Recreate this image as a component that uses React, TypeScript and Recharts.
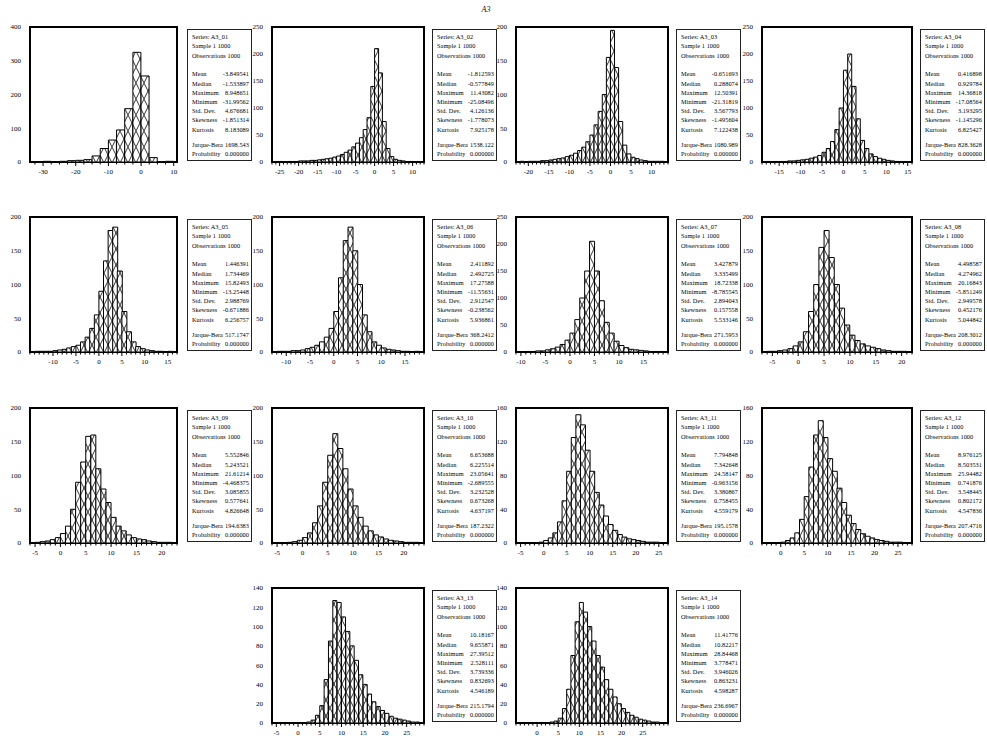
import { BarChart, Bar, XAxis, YAxis, ReferenceArea } from "recharts"

// Histogram bins: first bin start and width for each series
const seriesNames = ["A3_01", "A3_02", "A3_03", "A3_04", "A3_05", "A3_06", "A3_07", "A3_08", "A3_09", "A3_10", "A3_11", "A3_12", "A3_13", "A3_14"]
const binStart = [-32.5, -26, -22, -18, -14, -12, -9, -6, -5, -3, -1, 0, 2, 3]
const binWidth = [2.5, 1, 1, 1, 1, 1, 1, 1, 1, 1, 1, 1, 1, 1]

const counts01 = [1, 2, 1, 2, 4, 5, 7, 18, 40, 65, 95, 158, 325, 255, 13, 1, 2]
const counts02 = [1, 1, 0, 1, 1, 1, 2, 2, 2, 3, 3, 4, 5, 6, 7, 9, 11, 14, 18, 22, 28, 35, 45, 60, 82, 140, 210, 165, 75, 25, 10, 5, 3, 2, 1, 1, 0, 1]
const counts03 = [1, 0, 1, 1, 1, 2, 2, 3, 4, 5, 6, 8, 10, 13, 17, 22, 30, 40, 55, 75, 100, 155, 195, 140, 60, 25, 12, 7, 5, 3, 2, 1, 1, 1, 1]
const counts04 = [1, 0, 1, 1, 1, 2, 2, 3, 4, 5, 7, 9, 12, 18, 25, 38, 60, 100, 170, 200, 140, 80, 40, 25, 15, 10, 7, 5, 3, 2, 1, 1, 1]
const counts05 = [1, 1, 1, 1, 2, 3, 4, 6, 8, 10, 15, 22, 35, 55, 90, 135, 180, 185, 120, 60, 30, 15, 8, 5, 3, 2, 1, 1, 0, 1]
const counts06 = [1, 1, 1, 2, 2, 3, 5, 7, 10, 15, 22, 35, 60, 110, 165, 185, 150, 100, 55, 30, 15, 10, 6, 4, 3, 2, 1, 1, 0, 1]
const counts07 = [1, 1, 2, 2, 4, 6, 9, 14, 22, 35, 60, 100, 150, 205, 150, 95, 55, 35, 20, 12, 8, 5, 4, 3, 2, 1, 1, 1]
const counts08 = [1, 1, 2, 3, 5, 9, 15, 30, 60, 100, 155, 180, 140, 100, 65, 40, 25, 17, 12, 9, 7, 5, 3, 2, 1, 1, 1]
const counts09 = [1, 2, 3, 5, 8, 14, 25, 50, 90, 120, 158, 160, 110, 80, 60, 38, 25, 18, 12, 8, 6, 5, 3, 2, 1, 1, 1]
const counts10 = [1, 2, 4, 8, 15, 30, 55, 90, 130, 162, 140, 110, 80, 55, 38, 25, 18, 12, 9, 6, 4, 3, 2, 1, 1, 1]
const counts11 = [1, 3, 6, 12, 25, 50, 85, 125, 152, 140, 110, 85, 60, 45, 32, 22, 15, 10, 7, 5, 4, 3, 2, 1, 1, 1]
const counts12 = [1, 3, 6, 12, 28, 55, 90, 128, 145, 125, 100, 85, 65, 48, 33, 23, 16, 11, 8, 6, 4, 3, 2, 1, 1, 1]
const counts13 = [1, 3, 8, 18, 45, 85, 127, 125, 110, 95, 80, 65, 50, 40, 30, 22, 17, 13, 10, 7, 5, 4, 3, 2, 1, 1]
const counts14 = [1, 2, 5, 15, 35, 70, 105, 125, 115, 100, 85, 70, 58, 45, 35, 27, 20, 15, 11, 8, 6, 4, 3, 2, 1, 1]
const allCounts = [counts01, counts02, counts03, counts04, counts05, counts06, counts07, counts08, counts09, counts10, counts11, counts12, counts13, counts14]

// Axis ranges and tick labels
const xDomains = [[-34, 11], [-27, 13], [-23, 14], [-19, 16], [-15, 17], [-13, 19], [-11, 20], [-7, 22], [-6, 23], [-6, 24], [-6, 27], [-4, 28], [-6, 29], [-5, 31]]
const xTickLabels = [
  [-30, -20, -10, 0, 10],
  [-25, -20, -15, -10, -5, 0, 5, 10],
  [-20, -15, -10, -5, 0, 5, 10],
  [-15, -10, -5, 0, 5, 10, 15],
  [-10, -5, 0, 5, 10, 15],
  [-10, -5, 0, 5, 10, 15],
  [-10, -5, 0, 5, 10, 15],
  [-5, 0, 5, 10, 15, 20],
  [-5, 0, 5, 10, 15, 20],
  [-5, 0, 5, 10, 15, 20],
  [-5, 0, 5, 10, 15, 20, 25],
  [0, 5, 10, 15, 20, 25],
  [-5, 0, 5, 10, 15, 20, 25],
  [0, 5, 10, 15, 20, 25],
]
const xMinorStep = [2.5, 1, 1, 1, 1, 1, 1, 1, 1, 1, 1, 1, 1, 1]
const yTickLabels = [
  [0, 100, 200, 300, 400],
  [0, 50, 100, 150, 200, 250],
  [0, 50, 100, 150, 200],
  [0, 50, 100, 150, 200, 250],
  [0, 50, 100, 150, 200],
  [0, 50, 100, 150, 200],
  [0, 50, 100, 150, 200, 250],
  [0, 50, 100, 150, 200],
  [0, 50, 100, 150, 200],
  [0, 50, 100, 150, 200],
  [0, 40, 80, 120, 160],
  [0, 40, 80, 120, 160],
  [0, 20, 40, 60, 80, 100, 120, 140],
  [0, 20, 40, 60, 80, 100, 120, 140],
]

// Descriptive statistics
const means = ["-3.849541", "-1.812593", "-0.651693", "0.416898", "1.446391", "2.411892", "3.427879", "4.498587", "5.552846", "6.653688", "7.794848", "8.976125", "10.18167", "11.41776"]
const medians = ["-1.533897", "-0.577849", "0.288074", "0.929784", "1.734469", "2.492725", "3.335499", "4.274962", "5.243521", "6.225514", "7.342648", "8.503531", "9.655871", "10.82217"]
const maxima = ["8.948651", "11.43082", "12.50391", "14.36818", "15.82493", "17.27588", "18.72338", "20.16843", "21.61214", "23.05641", "24.58147", "25.94482", "27.39512", "28.84468"]
const minima = ["-31.99562", "-25.08496", "-21.31819", "-17.08564", "-13.25448", "-11.55631", "-8.785545", "-5.851249", "-4.468375", "-2.689555", "-0.963156", "0.741876", "2.528111", "3.778471"]
const stdDevs = ["4.676681", "4.126136", "3.567793", "3.193295", "2.988769", "2.912547", "2.894043", "2.949578", "3.085855", "3.232528", "3.380867", "3.548445", "3.739336", "3.946026"]
const skews = ["-1.851314", "-1.778073", "-1.495604", "-1.145296", "-0.671886", "-0.238562", "0.157558", "0.452176", "0.577641", "0.673268", "0.758455", "0.802172", "0.832693", "0.863231"]
const kurts = ["8.183089", "7.925178", "7.122438", "6.825427", "6.256757", "5.936861", "5.533146", "5.044842", "4.826648", "4.637197", "4.559179", "4.547836", "4.546189", "4.598287"]
const jarqueBera = ["1698.543", "1538.122", "1080.989", "828.3628", "517.1747", "368.2412", "271.5953", "208.3012", "194.6383", "187.2322", "195.1578", "207.4716", "215.1794", "236.6967"]
const probs = ["0.000000", "0.000000", "0.000000", "0.000000", "0.000000", "0.000000", "0.000000", "0.000000", "0.000000", "0.000000", "0.000000", "0.000000", "0.000000", "0.000000"]

const FONT = "'Liberation Serif', 'DejaVu Serif', serif"
const boxLeft = [30, 272, 516, 762]
const boxWidth = [147, 152, 152, 150]
const statsLeft = [187, 432, 676, 920]
const rowTop = [27, 217, 408, 588]
const PLOT_H = 135

// grid slot (row, col) of each series
const slots = [[0, 0], [0, 1], [0, 2], [0, 3], [1, 0], [1, 1], [1, 2], [1, 3], [2, 0], [2, 1], [2, 2], [2, 3], [3, 1], [3, 2]]

function XTick(props: any) {
  const { x, y, payload, majors } = props
  const v = payload.value
  const major = majors.some((m: number) => Math.abs(m - v) < 1e-6)
  return (
    <g>
      <line x1={x} x2={x} y1={y} y2={y + (major ? 4 : 2.5)} stroke="#000" strokeWidth={1} />
      {major && (
        <text x={x} y={y + 12} textAnchor="middle" fontSize={7} fontFamily={FONT} fill="#000">
          {v}
        </text>
      )}
    </g>
  )
}

function Histogram({ idx }: { idx: number }) {
  const [row, col] = slots[idx]
  const left = boxLeft[col]
  const top = rowTop[row]
  const w = boxWidth[col]
  const data = allCounts[idx].map((n, i) => ({ mid: binStart[idx] + binWidth[idx] * (i + 0.5), n }))
  const [x0, x1] = xDomains[idx]
  const yTicks = yTickLabels[idx]
  const yMax = yTicks[yTicks.length - 1]
  const step = xMinorStep[idx]
  const minor: number[] = []
  for (let t = Math.ceil(x0 / step) * step; t <= x1 + 1e-9; t += step) minor.push(Math.round(t * 100) / 100)

  return (
    <div style={{ position: "absolute", left: left - 30, top: top - 8 }}>
      <BarChart
        width={w + 34}
        height={PLOT_H + 30}
        data={data}
        margin={{ top: 8, right: 4, left: 0, bottom: 0 }}
        barCategoryGap={0}
        barGap={0}
      >
        <XAxis
          dataKey="mid"
          type="number"
          domain={[x0, x1]}
          allowDataOverflow
          ticks={minor}
          interval={0}
          axisLine={false}
          tickLine={false}
          tickSize={0}
          tickMargin={0}
          height={22}
          tick={(p: any) => <XTick {...p} majors={xTickLabels[idx]} />}
        />
        <YAxis
          type="number"
          domain={[0, yMax]}
          ticks={yTicks}
          interval={0}
          axisLine={false}
          tickLine={false}
          tickSize={0}
          tickMargin={9}
          width={30}
          tick={{ fontSize: 7, fontFamily: FONT, fill: "#000" }}
        />
        <Bar dataKey="n" fill="url(#xhatch)" stroke="#000" strokeWidth={1} isAnimationActive={false} />
        <ReferenceArea x1={x0} x2={x1} y1={0} y2={yMax} fill="none" stroke="#000" strokeWidth={2} fillOpacity={0} ifOverflow="visible" />
      </BarChart>
    </div>
  )
}

function StatsBox({ idx }: { idx: number }) {
  const [row, col] = slots[idx]
  const rows: [string, string, number][] = [
    ["Series: " + seriesNames[idx], "", 7],
    ["Sample 1 1000", "", 16],
    ["Observations 1000", "", 25.5],
    ["Mean", means[idx], 44],
    ["Median", medians[idx], 53.5],
    ["Maximum", maxima[idx], 62.5],
    ["Minimum", minima[idx], 72],
    ["Std. Dev.", stdDevs[idx], 81],
    ["Skewness", skews[idx], 90],
    ["Kurtosis", kurts[idx], 99.5],
    ["Jarque-Bera", jarqueBera[idx], 115],
    ["Probability", probs[idx], 124],
  ]
  return (
    <div
      style={{
        position: "absolute",
        left: statsLeft[col],
        top: rowTop[row] + 2,
        width: 65,
        height: 132,
        border: "1px solid #222",
        boxSizing: "border-box",
        fontFamily: FONT,
        fontSize: 6.3,
        letterSpacing: 0.05,
        color: "#000",
      }}
    >
      {rows.map(([label, value, y]) => (
        <div key={label} style={{ position: "absolute", top: y - 5, left: 4, right: 2, height: 9, lineHeight: "9px", whiteSpace: "nowrap" }}>
          <span>{label}</span>
          {value && <span style={{ position: "absolute", right: 0, top: 0 }}>{value}</span>}
        </div>
      ))}
    </div>
  )
}

export default function App() {
  return (
    <div style={{ position: "absolute", left: 0, top: 0, width: 987, height: 736, background: "#fff", overflow: "hidden" }}>
      <svg width={0} height={0} style={{ position: "absolute" }}>
        <defs>
          <pattern id="xhatch" patternUnits="userSpaceOnUse" width={8} height={16}>
            <rect width={8} height={16} fill="#fff" />
            <path d="M0 0L8 16M8 0L0 16" stroke="#000" strokeWidth={0.8} />
          </pattern>
        </defs>
      </svg>
      <div style={{ position: "absolute", left: 0, width: 972, top: 5, textAlign: "center", fontFamily: FONT, fontStyle: "italic", fontSize: 8 }}>
        A3
      </div>
      {seriesNames.map((_, i) => (
        <Histogram key={"h" + i} idx={i} />
      ))}
      {seriesNames.map((_, i) => (
        <StatsBox key={"s" + i} idx={i} />
      ))}
    </div>
  )
}
